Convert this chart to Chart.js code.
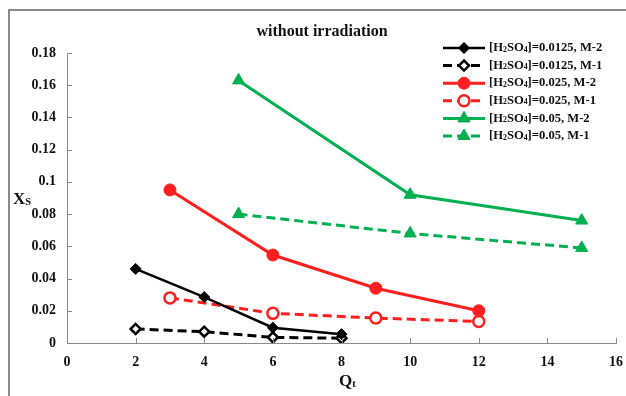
<!DOCTYPE html>
<html>
<head>
<meta charset="utf-8">
<script src="https://cdn.jsdelivr.net/npm/chart.js@4.4.1/dist/chart.umd.min.js"></script>
<style>
  html, body { margin: 0; padding: 0; background: #fff; }
  #wrap { position: relative; width: 626px; height: 396px; overflow: hidden; }
  #frame { position: absolute; left: 8px; top: 9px; width: 660px; height: 420px; border: 2px solid #8a8a8a; box-sizing: border-box; }
  #myChart { position: absolute; left: 0; top: 0; }
</style>
</head>
<body>
<div id="wrap">
  <div id="frame"></div>
  <canvas id="myChart" width="626" height="396"></canvas>
</div>
<script>
// Qt values for each acid concentration
const qt0125 = [2, 4, 6, 8];
const qt025 = [3, 6, 9, 12];
const qt05 = [5, 10, 15];

// Xs, model 2 and model 1
const xs0125M2 = [0.046, 0.0285, 0.0095, 0.0055];
const xs0125M1 = [0.0087, 0.007, 0.0035, 0.003];
const xs025M2 = [0.095, 0.0546, 0.034, 0.020];
const xs025M1 = [0.028, 0.0184, 0.0155, 0.0133];
const xs05M2 = [0.163, 0.092, 0.076];
const xs05M1 = [0.080, 0.068, 0.059];

const legendNames = [
  ['0.0125', 'M-2'], ['0.0125', 'M-1'],
  ['0.025', 'M-2'], ['0.025', 'M-1'],
  ['0.05', 'M-2'], ['0.05', 'M-1']
];

const xTicks = { min: 0, max: 16, step: 2 };
const yTicks = { min: 0, max: 0.18, step: 0.02 };

const SERIF = '"Liberation Serif", "Times New Roman", serif';
const RED = '#ff1f1f';
const GREEN = '#00b050';

const pts = (xs, ys) => xs.map((x, i) => ({ x: x, y: ys[i] }));

const serie = (xs, ys, color, dashed, style, radius, open) => ({
  data: pts(xs, ys),
  borderColor: color,
  backgroundColor: color,
  borderWidth: 3,
  borderDash: dashed ? [9, 5] : [],
  pointStyle: style,
  pointRadius: radius,
  pointHoverRadius: radius,
  pointBackgroundColor: open ? '#fff' : color,
  pointBorderColor: color,
  pointBorderWidth: open ? 2.5 : 1,
  tension: 0,
  fill: false
});

const datasets = [
  serie(qt0125, xs0125M2, '#000', false, 'rectRot', 5.5, false),
  serie(qt0125, xs0125M1, '#000', true, 'rectRot', 5, true),
  serie(qt025, xs025M2, RED, false, 'circle', 6, false),
  serie(qt025, xs025M1, RED, true, 'circle', 5.5, true),
  serie(qt05, xs05M2, GREEN, false, 'triangle', 7, false),
  serie(qt05, xs05M1, GREEN, true, 'triangle', 7, false)
];
datasets[0].borderWidth = 2.5;

// text with a lowered small part, e.g. X + S
function subText(ctx, parts, x, y, size) {
  let cx = x;
  parts.forEach(p => {
    const sz = p.sub ? size * 0.62 : size;
    ctx.font = 'bold ' + sz + 'px ' + SERIF;
    ctx.fillText(p.t, cx, p.sub ? y + size * 0.12 : y);
    cx += ctx.measureText(p.t).width;
  });
}

const extras = {
  id: 'extras',
  afterDraw(chart) {
    const ctx = chart.ctx;
    const xs = chart.scales.x, ys = chart.scales.y;
    ctx.save();

    // inward tick marks
    ctx.strokeStyle = '#8a8a8a';
    ctx.lineWidth = 1;
    ctx.setLineDash([]);
    ctx.beginPath();
    for (let v = xTicks.min; v <= xTicks.max; v += xTicks.step) {
      const px = Math.round(xs.getPixelForValue(v)) + 0.5;
      ctx.moveTo(px, ys.bottom);
      ctx.lineTo(px, ys.bottom - 5);
    }
    for (let i = 0; i <= 9; i++) {
      const py = Math.round(ys.getPixelForValue(yTicks.min + i * yTicks.step)) + 0.5;
      ctx.moveTo(xs.left, py);
      ctx.lineTo(xs.left + 5, py);
    }
    ctx.stroke();

    // title and axis names
    ctx.fillStyle = '#111';
    ctx.textBaseline = 'middle';
    ctx.textAlign = 'center';
    ctx.font = 'bold 16px ' + SERIF;
    ctx.fillText('without irradiation', 322, 32);
    ctx.textAlign = 'left';
    subText(ctx, [{ t: 'X' }, { t: 'S', sub: true }], 13, 200, 17);
    subText(ctx, [{ t: 'Q' }, { t: 't', sub: true }], 339, 382, 17);

    // legend
    chart.data.datasets.forEach((ds, i) => {
      const y = 48 + i * 17.6;
      ctx.strokeStyle = ds.borderColor;
      ctx.lineWidth = ds.borderWidth;
      ctx.setLineDash(ds.borderDash);
      ctx.beginPath();
      ctx.moveTo(443, y);
      ctx.lineTo(485, y);
      ctx.stroke();
      ctx.setLineDash([]);
      ctx.fillStyle = ds.pointBackgroundColor;
      ctx.strokeStyle = ds.pointBorderColor;
      ctx.lineWidth = ds.pointBorderWidth;
      Chart.helpers.drawPoint(ctx, {
        pointStyle: ds.pointStyle, radius: ds.pointRadius, rotation: 0,
        borderWidth: ds.pointBorderWidth
      }, 464, y);
      ctx.fillStyle = '#111';
      const n = legendNames[i];
      subText(ctx, [{ t: '[H' }, { t: '2', sub: true }, { t: 'SO' }, { t: '4', sub: true },
        { t: ']=' + n[0] + ', ' + n[1] }], 489, y, 12.6);
    });
    ctx.restore();
  }
};

const tickFont = { family: SERIF, size: 14, weight: 'bold' };

const myChart = new Chart('myChart', {
  type: 'line',
  data: { datasets: datasets },
  options: {
    responsive: false,
    animation: false,
    layout: { padding: { left: 0, right: 9, top: 53, bottom: 0 } },
    plugins: { legend: { display: false }, title: { display: false }, tooltip: { enabled: false } },
    scales: {
      x: {
        type: 'linear',
        min: xTicks.min, max: xTicks.max,
        grid: { display: false },
        border: { color: '#8a8a8a', width: 1 },
        ticks: { stepSize: xTicks.step, color: '#111', font: tickFont, padding: 3 },
        afterFit: s => { s.height = 53; }
      },
      y: {
        min: yTicks.min, max: yTicks.max,
        grid: { display: false },
        border: { color: '#8a8a8a', width: 1 },
        ticks: {
          stepSize: yTicks.step, color: '#111', font: tickFont, padding: 3,
          callback: v => String(+v.toFixed(2))
        },
        afterFit: s => { s.width = 67; }
      }
    }
  },
  plugins: [extras]
});
</script>
</body>
</html>
